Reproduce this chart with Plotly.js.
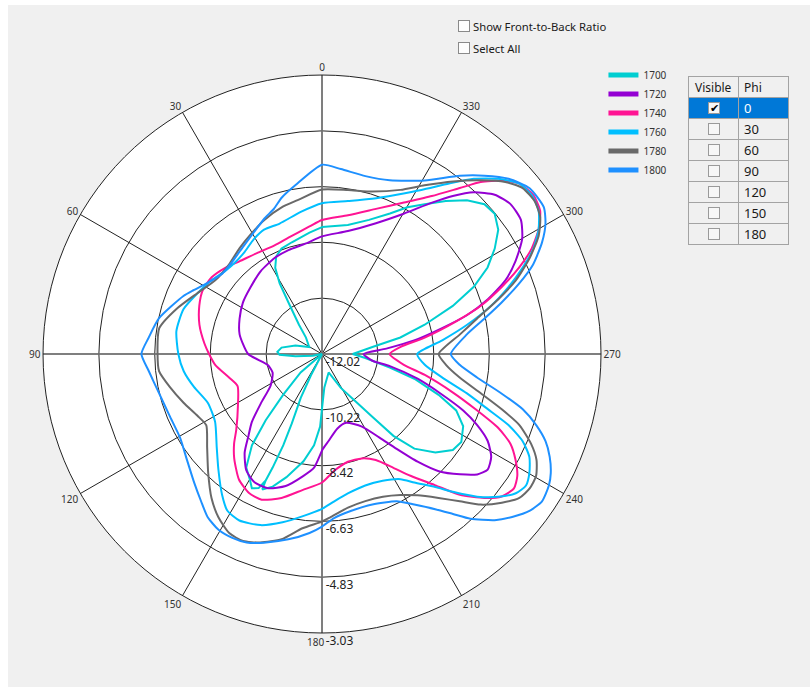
<!DOCTYPE html>
<html>
<head>
<meta charset="utf-8">
<script src="https://cdn.plot.ly/plotly-3.0.1.min.js"></script>
<style>
html,body{margin:0;padding:0;background:#f0f0f0;}
#wrap{position:relative;width:810px;height:687px;overflow:hidden;background:#f0f0f0;}
#chart{position:absolute;left:0;top:0;width:810px;height:687px;}
.edge{position:absolute;background:#ffffff;}
.ui{position:absolute;font-family:"Noto Sans",sans-serif;font-size:11.3px;color:#1a1a1a;white-space:nowrap;}
.cb{position:absolute;width:12px;height:12px;border:1px solid #8a8a8a;background:#fdfdfd;box-sizing:border-box;}
#tbl{position:absolute;left:688px;top:76px;border-collapse:collapse;font-family:"Noto Sans",sans-serif;color:#1a1a1a;background:#f0f0f0;}
#tbl td{border:1px solid #a3a3a3;height:20px;padding:0;position:relative;}
#tbl td.c1{width:49px;}
#tbl td.c2{width:44px;padding-left:5px;font-size:13px;}
#tbl tr.hd td{font-size:12px;}
#tbl tr.hd td.c1{padding-left:6px;width:43px;}
#tbl tr.sel td{background:#0078d7;color:#ffffff;}
#tbl .box{position:absolute;left:19px;top:4px;width:12px;height:12px;border:1px solid #9a9a9a;background:#f7f7f7;box-sizing:border-box;font-size:11px;line-height:10px;text-align:center;color:#000;}
</style>
</head>
<body>
<div id="wrap">
  <div id="chart"></div>
  <div class="edge" style="left:0;top:0;width:8px;height:687px;"></div>
  <div class="edge" style="left:0;top:0;width:810px;height:5px;"></div>
  <div class="cb" style="left:458px;top:20px;"></div>
  <div class="ui" style="left:473px;top:19px;">Show Front-to-Back Ratio</div>
  <div class="cb" style="left:458px;top:42px;"></div>
  <div class="ui" style="left:473px;top:41px;">Select All</div>
  <table id="tbl"></table>
</div>
<script>
// ---------------- data ----------------
const rMin = -12.02;
const rMax = -3.03;
const radialTicks = [-12.02, -10.22, -8.42, -6.63, -4.83, -3.03];
const radialTickText = ['-12.02', '-10.22', '-8.42', '-6.63', '-4.83', '-3.03'];
const angleTicks = [0, 30, 60, 90, 120, 150, 180, 210, 240, 270, 300, 330];
const angleTickText = ['0', '30', '60', '90', '120', '150', '180', '210', '240', '270', '300', '330'];
const seriesNames = ['1700', '1720', '1740', '1760', '1780', '1800'];
const phiValues = ['0', '30', '60', '90', '120', '150', '180'];

const theta1700 = [0, 5.9, 15.1, 21, 25.2, 28.5, 31, 33.1, 38.2, 44.3, 61.4, 72.2, 81, 87.2, 90.9, 94.9, 100, 112, 130.8, 136.4, 139.6, 142.5, 146.3, 150.3, 152.4, 154.7, 156, 156.5, 157, 156.5, 154.1, 152.5, 150, 152.5, 154.1, 156.5, 157, 156.5, 156, 156.2, 159.6, 163.9, 170.2, 175, 178.5, 180.5, 184, 191, 199.8, 209, 215.1, 218.7, 221.1, 224.3, 229, 233.7, 237.7, 242.9, 247.2, 250.7, 255, 258.6, 264.8, 270, 277.9, 281.9, 285.9, 290.2, 293.9, 297.6, 301.4, 305.2, 309.1, 312.7, 316.7, 321, 325.6, 329.8, 334.2, 340.7, 348.7, 360];
const r1700 = [-7.93, -8.09, -8.29, -8.38, -8.55, -8.86, -9.37, -10.04, -10.82, -11.28, -11.55, -11.12, -10.70, -10.58, -10.65, -11.16, -11.72, -12.02, -11.11, -10.21, -9.22, -8.31, -7.62, -7.34, -7.14, -7.24, -7.56, -8.03, -8.83, -9.58, -10.45, -11.24, -12.02, -11.24, -10.45, -9.58, -8.83, -8.03, -7.56, -7.25, -7.46, -7.89, -8.51, -9.07, -9.68, -10.40, -10.94, -11.21, -11.39, -10.77, -10.18, -9.43, -8.52, -7.76, -7.18, -6.79, -6.71, -6.91, -7.33, -8.04, -8.94, -9.79, -10.62, -11.03, -10.38, -9.44, -8.58, -7.53, -6.67, -6.00, -5.50, -5.07, -4.85, -4.90, -5.21, -5.68, -6.17, -6.55, -6.99, -7.44, -7.78, -7.93];

const theta1720 = [0, 8.2, 17.9, 26.3, 36.6, 47, 57, 66.8, 76.6, 90, 101.2, 110.5, 121.5, 129, 134.2, 138, 141.9, 146.9, 152.1, 158.2, 164.6, 171.2, 176, 180.5, 184.3, 191.7, 199.4, 208.8, 214.5, 218.2, 221.6, 224.9, 228.9, 232.2, 235.1, 238.7, 242.3, 245.4, 248.2, 251.3, 255.5, 259.9, 262.4, 270, 274.8, 278.4, 282.2, 285, 288.3, 291.9, 295.6, 299.9, 304, 308.5, 312.7, 316.8, 320.4, 324, 329.8, 337.6, 348.1, 360];
const r1720 = [-8.23, -8.42, -8.50, -8.57, -8.70, -8.87, -8.98, -9.13, -9.29, -9.64, -10.23, -10.32, -10.08, -9.48, -8.86, -8.48, -7.98, -7.55, -7.35, -7.36, -7.61, -8.04, -8.35, -8.96, -9.21, -9.57, -9.67, -9.35, -8.75, -8.13, -7.38, -6.69, -6.12, -5.69, -5.51, -5.64, -5.99, -6.52, -7.12, -7.93, -8.84, -9.80, -10.38, -10.68, -9.94, -9.02, -8.06, -7.19, -6.39, -5.65, -5.11, -4.58, -4.29, -4.26, -4.45, -4.87, -5.41, -5.99, -6.79, -7.46, -7.97, -8.23];

const theta1740 = [0, 5.6, 16.1, 23.6, 32.8, 41.7, 48.1, 55.2, 61.7, 68.5, 76.6, 85, 90, 95.8, 104.2, 110.8, 121.3, 131.5, 135.6, 140, 146.5, 152.3, 157.5, 164.3, 171.8, 180, 185.8, 193.5, 200.9, 206.9, 212.1, 216, 220.8, 224.4, 228.4, 231.6, 235, 238, 241.3, 244.5, 247.2, 250.2, 253.6, 258.5, 262.5, 270, 275.1, 279.1, 283.7, 286.9, 290.5, 293.7, 296.7, 299.9, 303.3, 307, 310.8, 314, 317.3, 320.3, 325.2, 331.6, 339.6, 349.4, 360];
const r1740 = [-7.70, -7.89, -8.12, -8.20, -8.15, -8.02, -7.85, -7.69, -7.66, -7.77, -7.96, -8.22, -8.38, -8.56, -8.93, -9.11, -8.85, -8.33, -7.97, -7.62, -7.17, -6.96, -6.94, -7.20, -7.59, -7.88, -8.23, -8.45, -8.42, -8.19, -7.69, -7.17, -6.43, -5.67, -5.03, -4.63, -4.47, -4.60, -4.91, -5.29, -5.85, -6.76, -7.62, -8.64, -9.36, -9.84, -9.49, -8.67, -7.57, -6.67, -5.83, -5.08, -4.46, -3.97, -3.61, -3.50, -3.62, -3.97, -4.48, -5.07, -5.82, -6.47, -7.03, -7.47, -7.70];

const theta1760 = [0, 8.5, 18, 25, 30.8, 37.1, 42.9, 49.3, 56.3, 63, 72, 81.1, 90, 97.1, 104.4, 113.2, 122.4, 131.5, 138.1, 144.6, 148.9, 153.6, 160.2, 166.8, 173.3, 180, 184.6, 190.5, 198.2, 205.6, 212.1, 215.7, 220.4, 223.5, 227.4, 231, 234.3, 237.2, 240.2, 243.6, 246.5, 249.1, 251.6, 254.8, 258.9, 264, 270, 276.5, 281.4, 285.9, 289.8, 293.3, 296.5, 299.9, 303.5, 307.2, 310.8, 314.8, 319.1, 323.3, 328.8, 334.9, 342.1, 350.4, 360];
const r1760 = [-7.16, -7.39, -7.60, -7.60, -7.72, -7.89, -7.95, -7.91, -7.74, -7.58, -7.33, -7.27, -7.39, -7.53, -7.76, -8.02, -7.94, -7.49, -7.02, -6.46, -6.12, -6.03, -6.16, -6.45, -6.76, -7.03, -7.25, -7.45, -7.56, -7.49, -7.26, -6.92, -6.39, -5.90, -5.23, -4.71, -4.33, -4.20, -4.32, -4.56, -4.97, -5.58, -6.39, -7.18, -8.07, -8.69, -8.95, -8.12, -7.25, -6.36, -5.63, -4.98, -4.41, -3.97, -3.65, -3.54, -3.62, -4.01, -4.55, -5.17, -5.84, -6.35, -6.76, -7.02, -7.16];

const theta1780 = [0, 9, 15.4, 23.4, 30.7, 38, 46, 55.4, 64, 72.8, 81, 90, 96, 102.2, 109.4, 116.4, 121.6, 129.1, 136.2, 142.5, 147.6, 152.6, 157.1, 161.9, 167.7, 173.6, 180, 182.9, 189.6, 196.4, 203.1, 209.1, 214.1, 219, 223.1, 226.5, 230.4, 233.9, 237.1, 240.3, 243.7, 246.7, 250.2, 252.9, 256.1, 260.3, 265, 270, 278.1, 282.9, 287.2, 290.8, 294.8, 298.6, 302.1, 305.7, 309.6, 313.2, 317.6, 322.8, 328.7, 334.5, 342.8, 351, 360];
const r1780 = [-6.72, -7.00, -7.12, -7.32, -7.53, -7.70, -7.86, -7.84, -7.55, -7.11, -6.71, -6.72, -6.74, -7.00, -7.29, -7.54, -7.64, -7.25, -6.72, -6.17, -5.79, -5.52, -5.48, -5.63, -5.91, -6.37, -6.62, -6.75, -7.00, -7.08, -7.02, -6.82, -6.52, -6.05, -5.52, -4.97, -4.50, -4.15, -4.05, -4.08, -4.31, -4.68, -5.26, -5.96, -6.75, -7.52, -8.01, -8.26, -7.53, -6.89, -6.08, -5.34, -4.65, -4.07, -3.72, -3.58, -3.63, -3.92, -4.44, -5.04, -5.66, -6.16, -6.54, -6.67, -6.72];

const theta1800 = [0, 8.9, 14.5, 18.3, 22.9, 28, 36, 44, 51.3, 58.5, 63.4, 67.3, 77.7, 84.6, 90, 95.6, 103.6, 112, 120.5, 128.1, 135.1, 140.6, 145, 149.5, 154, 158.2, 162.9, 169.7, 176, 180, 184.2, 190.6, 198.5, 206.9, 211.5, 216.1, 219.3, 222, 226.1, 229.4, 233, 236.2, 239.9, 242.5, 245.7, 248.7, 251.6, 254.6, 257.6, 261.4, 265.5, 270, 277.7, 282.3, 286, 289.7, 293, 296.9, 300.3, 303.5, 308.6, 313.2, 317.7, 322.3, 329.4, 338.7, 346.3, 354.2, 360];
const r1800 = [-5.92, -6.51, -6.82, -7.09, -7.27, -7.48, -7.72, -7.87, -7.89, -7.66, -7.41, -7.18, -6.64, -6.41, -6.20, -6.41, -6.62, -6.72, -6.71, -6.49, -6.18, -5.88, -5.60, -5.45, -5.43, -5.48, -5.66, -5.95, -6.24, -6.46, -6.72, -6.88, -6.91, -6.70, -6.33, -5.83, -5.36, -4.88, -4.30, -3.95, -3.63, -3.49, -3.57, -3.71, -3.97, -4.29, -4.74, -5.31, -6.10, -6.97, -7.57, -7.87, -7.31, -6.66, -6.00, -5.27, -4.63, -4.07, -3.68, -3.45, -3.46, -3.77, -4.25, -4.76, -5.52, -6.01, -6.12, -6.03, -5.92];

// ---------------- styling ----------------
const seriesColors = ['#00CED1', '#9400D3', '#FF1493', '#00BFFF', '#696969', '#1E90FF'];
const thetas = [theta1700, theta1720, theta1740, theta1760, theta1780, theta1800];
const rs = [r1700, r1720, r1740, r1760, r1780, r1800];

const traces = [];
// main cross lines (0-180 and 90-270), drawn in grey under the data
traces.push({
  type: 'scatterpolar', mode: 'lines',
  r: [rMax, rMin, rMax, null, rMax, rMin, rMax],
  theta: [0, 0, 180, null, 90, 90, 270],
  line: {color: '#7a7a7a', width: 1.6},
  showlegend: false, hoverinfo: 'skip', connectgaps: false
});
for (let i = 0; i < seriesNames.length; i++) {
  traces.push({
    type: 'scatterpolar', mode: 'lines',
    r: rs[i], theta: thetas[i],
    name: seriesNames[i],
    line: {color: seriesColors[i], width: 2, shape: i === 0 ? 'linear' : 'spline', smoothing: 0.6},
    showlegend: false, hoverinfo: 'skip'
  });
}
// legend entries (thick swatches)
for (let i = 0; i < seriesNames.length; i++) {
  traces.push({
    type: 'scatterpolar', mode: 'lines',
    r: [null], theta: [null],
    name: seriesNames[i],
    line: {color: seriesColors[i], width: 5},
    showlegend: true, hoverinfo: 'skip'
  });
}

// radial labels sit just below-right of each ring crossing (as in the source widget)
const radialLabelText = radialTickText.map(function (t) { return '<br>\u00a0' + t; });
// the bottom angular label sits left of the axis, beside the last radial label
const angleLabelText = angleTickText.map(function (t) {
  return t === '180' ? t + '\u00a0\u00a0\u00a0\u00a0\u00a0' : t;
});

const layout = {
  width: 810, height: 687,
  margin: {l: 0, r: 0, t: 0, b: 0},
  paper_bgcolor: 'rgba(0,0,0,0)',
  font: {family: 'Noto Sans, sans-serif', size: 10, color: '#333333'},
  showlegend: true,
  hovermode: false,
  legend: {
    x: 0.745, y: 0.912, xanchor: 'left', yanchor: 'top',
    bgcolor: 'rgba(0,0,0,0)', font: {size: 10, color: '#333333'},
    itemwidth: 30, traceorder: 'normal'
  },
  polar: {
    domain: {x: [0.0531, 0.7420], y: [0.0786, 0.8908]},
    bgcolor: '#ffffff',
    angularaxis: {
      rotation: 90, direction: 'counterclockwise',
      tickmode: 'array', tickvals: angleTicks, ticktext: angleLabelText,
      showline: true, linecolor: '#222222', linewidth: 1,
      showgrid: true, gridcolor: '#222222', gridwidth: 1,
      ticks: '', tickfont: {size: 10, color: '#333333'}
    },
    radialaxis: {
      range: [rMin, rMax],
      tickmode: 'array', tickvals: radialTicks, ticktext: radialLabelText,
      angle: 270, side: 'counterclockwise', tickangle: -90,
      showline: false, showgrid: true, gridcolor: '#222222', gridwidth: 1,
      ticks: '', tickfont: {size: 12, color: '#222222'}
    }
  }
};

Plotly.newPlot('chart', traces, layout, {staticPlot: true, displayModeBar: false});

// ---------------- side table (UI) ----------------
const tbl = document.getElementById('tbl');
let html = '<tr class="hd"><td class="c1">Visible</td><td class="c2" style="font-size:12px">Phi</td></tr>';
phiValues.forEach(function (p, idx) {
  html += '<tr' + (idx === 0 ? ' class="sel"' : '') + '><td class="c1"><div class="box">' +
    (idx === 0 ? '&#10004;' : '') + '</div></td><td class="c2">' + p + '</td></tr>';
});
tbl.innerHTML = html;
</script>
</body>
</html>
